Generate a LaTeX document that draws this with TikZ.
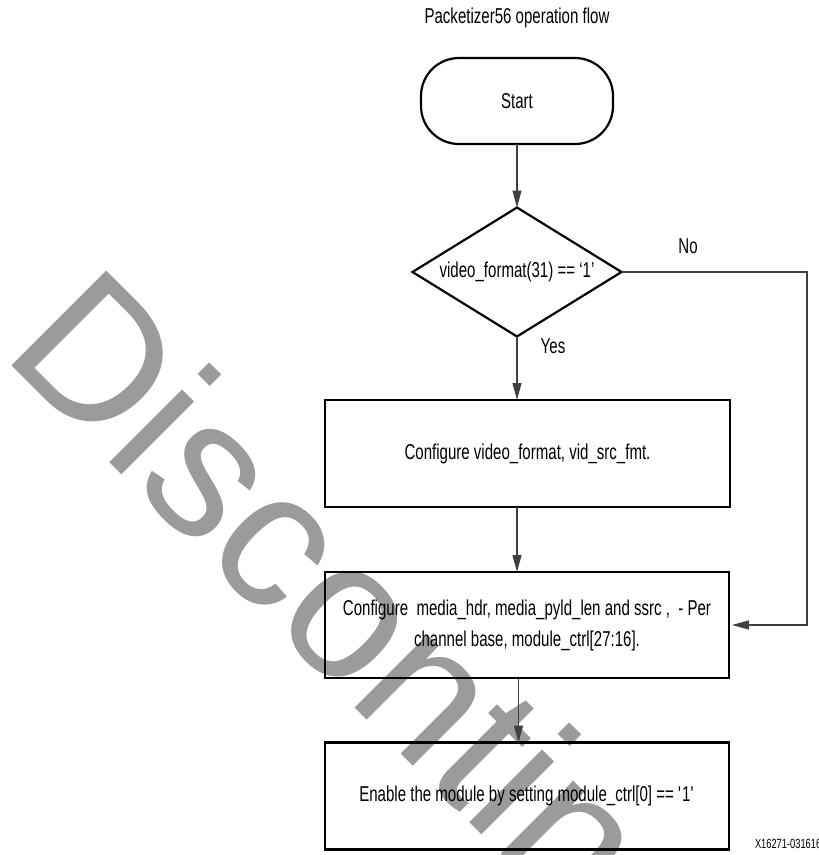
\documentclass[tikz,border=0pt]{standalone}
\usepackage{fontspec}
\setmainfont{Liberation Sans}[FakeStretch=0.70]
\newfontfamily\wmfont{Liberation Sans}
\usetikzlibrary{shapes.geometric,arrows.meta}
\definecolor{wmgray}{RGB}{155,155,155}
\definecolor{linegray}{RGB}{64,64,64}
\begin{document}
\begin{tikzpicture}[x=1pt,y=-1pt,
  every node/.style={inner sep=0pt, outer sep=0pt, font=\fontsize{21.5}{31}\selectfont},
  stepbox/.style={draw=black, line width=2.2pt, rectangle, align=center},
  terminal/.style={draw=black, line width=2.2pt, rectangle, rounded corners=38pt,
    minimum width=192pt, minimum height=86pt},
  decision/.style={draw=black, line width=2.2pt, diamond, aspect=1.62,
    minimum width=209pt, minimum height=129pt},
  flow/.style={draw=linegray, line width=1.1pt, -{Triangle[length=17pt,width=9pt]}},
  watermark/.style={font=\wmfont\fontsize{195}{195}\selectfont, text=wmgray,
    rotate=-45, anchor=base west},
  figid/.style={font=\fontsize{13.3}{15}\selectfont, anchor=base west}]

\useasboundingbox (0,0) rectangle (819,855);
\fill[white] (0,0) rectangle (819,855);

% watermark behind the flow chart
\begin{scope}
  \clip (0,0) rectangle (819,855);
  \node[watermark] (wm) at (1,354) {Discontinued};
\end{scope}

% title
\node (title) at (517,18) {Packetizer56 operation flow};

% flow chart nodes
\node[terminal] (start) at (517,101) {Start};
\node[decision] (dec) at (517,272) {video\_format(31) == ‘1’};
\node[stepbox, minimum width=405pt, minimum height=107pt] (box1) at (527.5,453.5)
  {Configure video\_format, vid\_src\_fmt.};
\node[stepbox, minimum width=404pt, minimum height=106pt] (box2) at (527,625)
  {Configure\ \ media\_hdr, media\_pyld\_len and ssrc ,\ \ - Per\\channel base, module\_ctrl[27:16].};
\node[stepbox, minimum width=404pt, minimum height=107pt] (box3) at (527,796)
  {Enable the module by setting module\_ctrl[0] == \textquotesingle1\textquotesingle};

% branch labels
\node (no) at (688,246) {No};
\node (yes) at (553,346) {Yes};

% connectors
\coordinate (noturn) at (807,272);
\draw[flow] (start.south) -- (dec.north);
\draw[flow] (dec.south) -- (dec.south |- box1.north);
\draw[flow] (dec.south |- box1.south) -- (dec.south |- box2.north);
\draw[flow] ([xshift=1.5pt]dec.south |- box2.south) -- ([xshift=1.5pt]dec.south |- box3.north);
\draw[flow, shorten >=3pt] (dec.east) -- (noturn) |- (box2.east);

% figure id
\node[figid] (fig) at (755,848) {X16271-031616};
\end{tikzpicture}
\end{document}
